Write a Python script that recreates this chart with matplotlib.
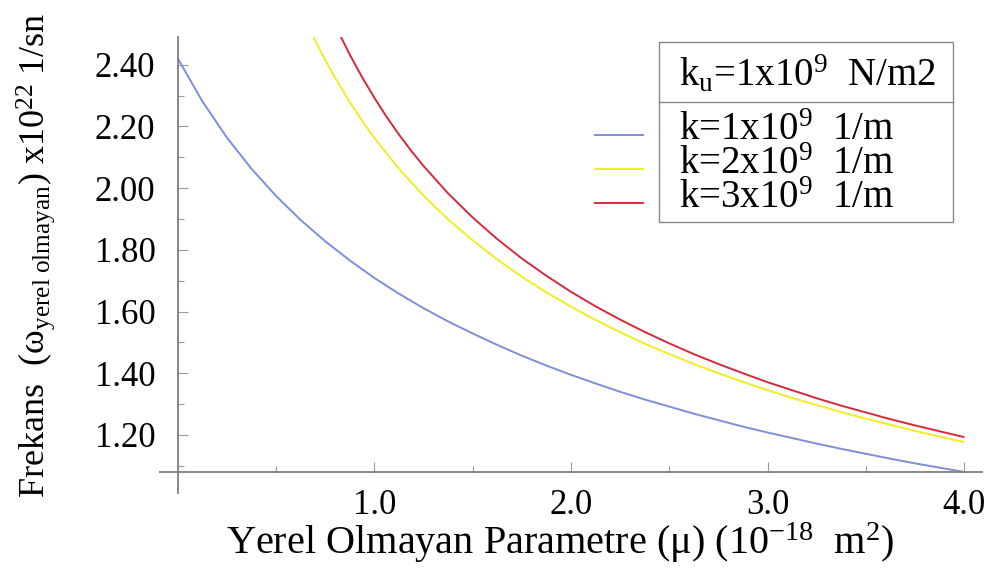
import numpy as np
import matplotlib
matplotlib.use("Agg")
import matplotlib.pyplot as plt
from matplotlib.lines import Line2D
from matplotlib.patches import Rectangle

plt.rcParams['font.family'] = ['Liberation Serif', 'DejaVu Serif']
plt.rcParams['mathtext.fontset'] = 'custom'
plt.rcParams['mathtext.rm'] = 'Liberation Serif'
plt.rcParams['mathtext.it'] = 'Liberation Serif:italic'

# values (mu in 1e-18 m2, freq in 1e22 1/sn)
mu_blue = [0.0, 0.125, 0.25, 0.375, 0.5, 0.625, 0.75, 0.875, 1.0, 1.125, 1.25, 1.375, 1.5, 1.625,
           1.75, 1.875, 2.0, 2.125, 2.25, 2.375, 2.5, 2.625, 2.75, 2.875, 3.0, 3.125, 3.25, 3.375,
           3.5, 3.625, 3.75, 3.875, 4.0]
w_blue = [2.421, 2.282, 2.164, 2.063, 1.975, 1.897, 1.828, 1.766, 1.709, 1.658, 1.611, 1.568,
          1.529, 1.492, 1.457, 1.425, 1.395, 1.367, 1.340, 1.315, 1.292, 1.269, 1.248, 1.227,
          1.208, 1.190, 1.172, 1.155, 1.139, 1.123, 1.108, 1.094, 1.080]

mu_yellow = [0.69, 0.72, 0.75, 0.8, 0.875, 0.9375, 1.0, 1.125, 1.25, 1.375, 1.5, 1.625, 1.75,
             1.875, 2.0, 2.125, 2.25, 2.375, 2.5, 2.625, 2.75, 2.875, 3.0, 3.125, 3.25, 3.375,
             3.5, 3.625, 3.75, 3.875, 4.0]
w_yellow = [2.491, 2.452, 2.416, 2.358, 2.279, 2.219, 2.163, 2.063, 1.976, 1.899, 1.831, 1.769,
            1.713, 1.662, 1.616, 1.573, 1.533, 1.496, 1.462, 1.430, 1.400, 1.372, 1.345, 1.320,
            1.297, 1.274, 1.253, 1.233, 1.213, 1.195, 1.177]

mu_red = [0.83, 0.85, 0.875, 0.9375, 1.0, 1.0625, 1.125, 1.1875, 1.25, 1.375, 1.5, 1.625, 1.75,
          1.875, 2.0, 2.125, 2.25, 2.375, 2.5, 2.625, 2.75, 2.875, 3.0, 3.125, 3.25, 3.375,
          3.5, 3.625, 3.75, 3.875, 4.0]
w_red = [2.490, 2.465, 2.433, 2.360, 2.293, 2.231, 2.174, 2.121, 2.072, 1.983, 1.905, 1.835,
         1.772, 1.716, 1.664, 1.617, 1.574, 1.534, 1.497, 1.462, 1.430, 1.400, 1.371, 1.345,
         1.319, 1.295, 1.273, 1.251, 1.231, 1.212, 1.193]

labels = [r'k=1x10$^{9}$  1/m', r'k=2x10$^{9}$  1/m', r'k=3x10$^{9}$  1/m']
colors = ['#7d8fd8', '#eeee22', '#d8283c']
header = r'k$_{\mathrm{u}}$=1x10$^{9}$  N/m2'

xticks = [1.0, 2.0, 3.0, 4.0]
yticks = [1.20, 1.40, 1.60, 1.80, 2.00, 2.20, 2.40]

fig = plt.figure(figsize=(9.94, 5.72), dpi=100)
ax = fig.add_axes([160 / 994, 1 - 493 / 572, 822 / 994, 456 / 572])

for x, y, c in zip([mu_blue, mu_yellow, mu_red], [w_blue, w_yellow, w_red], colors):
    ax.plot(x, y, color=c, lw=1.4, solid_capstyle='butt')

ax.set_xlim(-0.09, 4.09)
ax.set_ylim(1.012, 2.49)

# Mathematica style crossing axes
for s in ['top', 'right']:
    ax.spines[s].set_visible(False)
ax.spines['left'].set_position(('data', 0.0))
ax.spines['bottom'].set_position(('data', 1.08))
for s in ['left', 'bottom']:
    ax.spines[s].set_color('#808080')
    ax.spines[s].set_linewidth(1.3)

ax.set_xticks(xticks)
ax.set_xticklabels([f'{v:.1f}' for v in xticks])
ax.set_xticks(np.arange(0.5, 4.01, 0.5), minor=True)
ax.set_yticks(yticks)
ax.set_yticklabels([f'{v:.2f}' for v in yticks])
ax.set_yticks(np.arange(1.1, 2.45, 0.1), minor=True)
ax.tick_params(which='both', direction='in', colors='#999999', width=0.8, labelcolor='black')
ax.tick_params(which='major', length=7)
ax.tick_params(which='minor', length=4)
ax.tick_params(axis='y', which='major', labelsize=25, pad=16)
ax.tick_params(axis='x', which='major', labelsize=25, pad=12)

fig.text(560 / 994, 1 - 543 / 572, r'Yerel Olmayan Parametre (μ) (10$^{-18}$  m$^{2}$)',
         ha='center', va='center', fontsize=29)
fig.text(36 / 994, 1 - 255 / 572,
         r'Frekans  (ω$_{\mathrm{yerel\ olmayan}}$) x10$^{22}$ 1/sn',
         ha='center', va='center', rotation=90, fontsize=26)

# legend box drawn by hand (line samples sit outside the frame)
tf = fig.transFigure
fig.add_artist(Rectangle((659 / 994, 1 - 222 / 572), 294 / 994, 180 / 572, transform=tf,
                         fill=False, edgecolor='#888888', lw=1.0))
fig.add_artist(Line2D([659 / 994, 953 / 994], [1 - 102 / 572] * 2, transform=tf,
                      color='#888888', lw=1.0))
fig.text(679 / 994, 1 - 75 / 572, header, ha='left', va='center', fontsize=28)
for i, (lab, c) in enumerate(zip(labels, colors)):
    ty = 130 + 34 * i
    fig.text(679 / 994, 1 - ty / 572, lab, ha='left', va='center', fontsize=28)
    ly = 1 - (ty + 5) / 572
    fig.add_artist(Line2D([595 / 994, 643 / 994], [ly, ly], transform=tf, color=c, lw=1.4))

fig.savefig('out.png', dpi=100)
